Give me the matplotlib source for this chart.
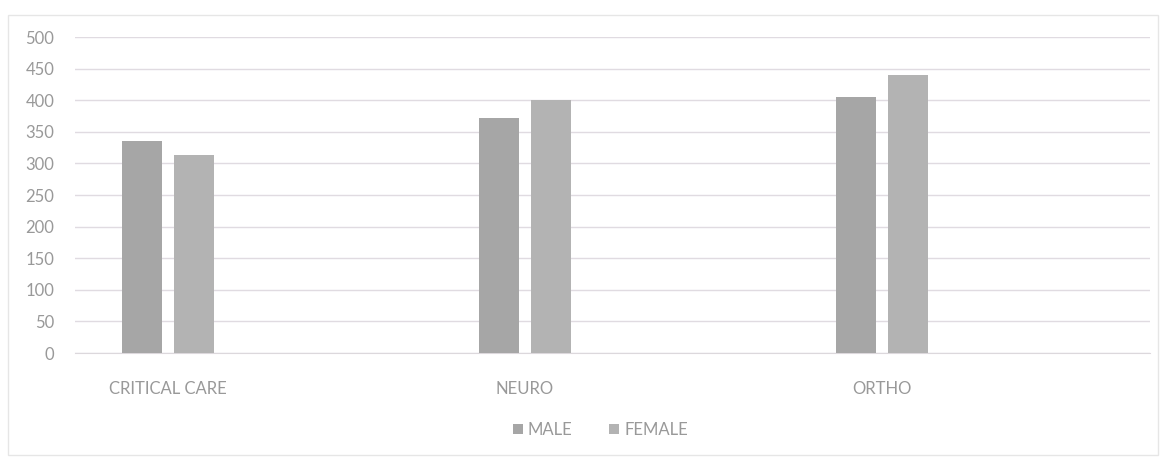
import matplotlib.pyplot as plt
import numpy as np
from matplotlib.patches import Rectangle

# data
categories = ["CRITICAL CARE", "NEURO", "ORTHO"]
male = [335, 372, 405]
female = [314, 400, 440]
series_names = ["MALE", "FEMALE"]
yticks = list(range(0, 501, 50))

plt.rcParams['font.family'] = ['Lato', 'DejaVu Sans']

fig = plt.figure(figsize=(11.66, 4.65), dpi=100)
ax = fig.add_axes([75 / 1166, 1 - 353 / 465, 1075 / 1166, 316 / 465])

x = np.arange(len(categories))
w = 0.112
off = 0.072
ax.bar(x - off, male, w, color="#a6a6a6", label=series_names[0], zorder=3)
ax.bar(x + off, female, w, color="#b3b3b3", label=series_names[1], zorder=3)

ax.set_xlim(-0.26, 2.75)
ax.set_ylim(0, 500)
ax.set_yticks(yticks)
ax.yaxis.grid(True, color="#e0dbe1", linewidth=1.0, zorder=0)
ax.set_xticks(x)
ax.set_xticklabels(categories)
for s in ax.spines.values():
    s.set_visible(False)
ax.spines['bottom'].set_visible(True)
ax.spines['bottom'].set_color("#dcd8dc")
ax.tick_params(axis='both', length=0, colors="#999999", labelsize=12)
ax.tick_params(axis='y', pad=15)
ax.tick_params(axis='x', pad=20)

leg = fig.legend(loc="center", bbox_to_anchor=(0.515, 1 - 430 / 465), ncol=2,
                 frameon=False, fontsize=12, handlelength=0.6, handleheight=0.6,
                 handletextpad=0.3, columnspacing=2.2)
for t in leg.get_texts():
    t.set_color("#999999")

# chart area border
fig.patches.append(Rectangle((8 / 1166, 10 / 465), 1150 / 1166, 440 / 465,
                             transform=fig.transFigure, fill=False,
                             edgecolor="#e6e6e6", linewidth=1))

fig.savefig("out.png", dpi=100)
